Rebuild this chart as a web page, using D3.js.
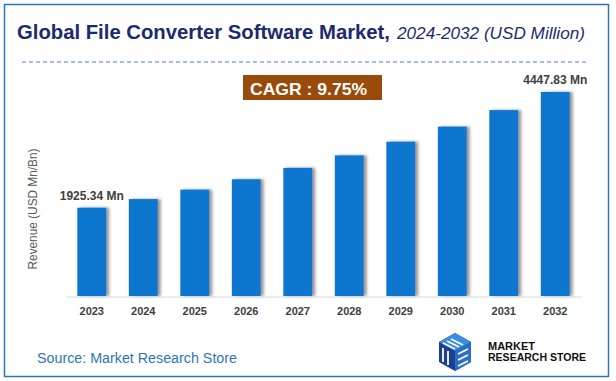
<!DOCTYPE html>
<html><head><meta charset="utf-8">
<script src="https://cdn.jsdelivr.net/npm/d3@7"></script>
<style>html,body{margin:0;padding:0;background:#fff;}svg{display:block;}</style>
</head><body>
<svg id="chart" width="616" height="381"></svg>
<script>
const years = ["2023","2024","2025","2026","2027","2028","2029","2030","2031","2032"];
const revenue = [1925.34, 2113, 2319, 2545, 2793, 3066, 3365, 3693, 4053, 4447.83];
const labelled = {"2023": "1925.34 Mn", "2032": "4447.83 Mn"};
const titleMain = "Global File Converter Software Market,";
const titleSub = "2024-2032 (USD Million)";
const cagrText = "CAGR : 9.75%";
const yAxisTitle = "Revenue (USD Mn/Bn)";
const sourceText = "Source: Market Research Store";

const svg = d3.select("#chart");
const FONT = "'Liberation Sans', Arial, sans-serif";

const defs = svg.append("defs");
const f = defs.append("filter").attr("id","sh").attr("x","-20%").attr("y","-10%").attr("width","150%").attr("height","120%");
f.append("feDropShadow").attr("dx",3).attr("dy",0).attr("stdDeviation",1.6)
  .attr("flood-color","#404040").attr("flood-opacity",0.55);

// border
svg.append("rect").attr("x",4.5).attr("y",4.5).attr("width",604).attr("height",372)
  .attr("fill","#fff").attr("stroke","#2e75b6").attr("stroke-width",1.5);

// title
svg.append("text").attr("x",17).attr("y",39).attr("font-family",FONT).attr("font-weight","bold")
  .attr("font-size",20).attr("fill","#1c2a6e").attr("textLength",373).attr("lengthAdjust","spacingAndGlyphs")
  .text(titleMain);
svg.append("text").attr("x",397).attr("y",39).attr("font-family",FONT).attr("font-style","italic")
  .attr("font-size",17).attr("fill","#1c2a6e").attr("textLength",188).attr("lengthAdjust","spacingAndGlyphs")
  .text(titleSub);

// dashed line
svg.append("line").attr("x1",22).attr("x2",586).attr("y1",62).attr("y2",62)
  .attr("stroke","#4a7fc9").attr("stroke-width",1).attr("stroke-dasharray","4,3");

// CAGR box
svg.append("rect").attr("x",243).attr("y",75).attr("width",139).attr("height",25).attr("fill","#9a4a0b");
svg.append("text").attr("x",250).attr("y",94.5).attr("font-family",FONT).attr("font-weight","bold")
  .attr("font-size",17).attr("fill","#fff").attr("textLength",117).attr("lengthAdjust","spacingAndGlyphs")
  .text(cagrText);

// scales
const x = d3.scaleBand().domain(years).range([66, 581]).paddingInner(0.44).paddingOuter(0.22);
const y = d3.scaleLinear().domain([0, 4447.83]).range([296, 92]);

// bars
svg.append("g").selectAll("rect").data(years).join("rect")
  .attr("x", d => x(d)).attr("width", x.bandwidth())
  .attr("y", (d,i) => y(revenue[i])).attr("height", (d,i) => y(0) - y(revenue[i]))
  .attr("fill","#0777cf").attr("filter","url(#sh)");

// axis
const ax = svg.append("g").attr("transform","translate(0,296.5)")
  .call(d3.axisBottom(x).tickSize(0).tickPadding(11));
ax.select(".domain").attr("stroke","#d9d9d9").attr("stroke-width",1.2);
ax.selectAll("text").attr("font-family",FONT).attr("font-weight","bold").attr("font-size",11).attr("fill","#404040");

// value labels
svg.append("g").selectAll("text").data(years.filter(d => labelled[d])).join("text")
  .attr("x", d => x(d) + x.bandwidth()/2)
  .attr("y", d => y(revenue[years.indexOf(d)]) - 8)
  .attr("text-anchor","middle").attr("font-family",FONT).attr("font-weight","bold")
  .attr("font-size",12).attr("fill","#404040").text(d => labelled[d]);

// y axis title
svg.append("text").attr("transform","translate(36.5,209) rotate(-90)").attr("text-anchor","middle")
  .attr("font-family",FONT).attr("font-size",12.5).attr("fill","#595959")
  .attr("textLength",121).attr("lengthAdjust","spacingAndGlyphs").text(yAxisTitle);

// source
svg.append("text").attr("x",37).attr("y",363).attr("font-family",FONT).attr("font-size",14)
  .attr("fill","#2e75b6").attr("textLength",200).attr("lengthAdjust","spacingAndGlyphs").text(sourceText);

// logo
const lg = svg.append("g").attr("transform","translate(437,333)");
lg.append("path").attr("d","M18,0 L34,9 L34,29 L18,38 L2,29 L2,9 Z").attr("fill","#1d3f8f");
lg.append("path").attr("d","M18,0 L34,9 L18,18 L2,9 Z").attr("fill","#3a8ee0");
lg.append("path").attr("d","M18,18 L34,9 L34,29 L18,38 Z").attr("fill","#2a6fc4");
lg.append("path").attr("d","M6,10 L18,16 M10,8 L22,14 M14,6 L26,12").attr("stroke","#fff").attr("stroke-width",1.6).attr("fill","none");
lg.append("path").attr("d","M6,15 L6,29 M11,18 L11,32 M21,21 L31,16 M21,27 L31,22 M21,33 L31,28").attr("stroke","#fff").attr("stroke-width",1.8).attr("fill","none");
svg.append("text").attr("x",488).attr("y",349.5).attr("font-family",FONT).attr("font-weight","bold")
  .attr("font-size",10).attr("fill","#111").attr("textLength",47).attr("lengthAdjust","spacingAndGlyphs").text("MARKET");
svg.append("text").attr("x",488).attr("y",361).attr("font-family",FONT).attr("font-weight","bold")
  .attr("font-size",10).attr("fill","#111").attr("textLength",98).attr("lengthAdjust","spacingAndGlyphs").text("RESEARCH STORE");
</script>
</body></html>
